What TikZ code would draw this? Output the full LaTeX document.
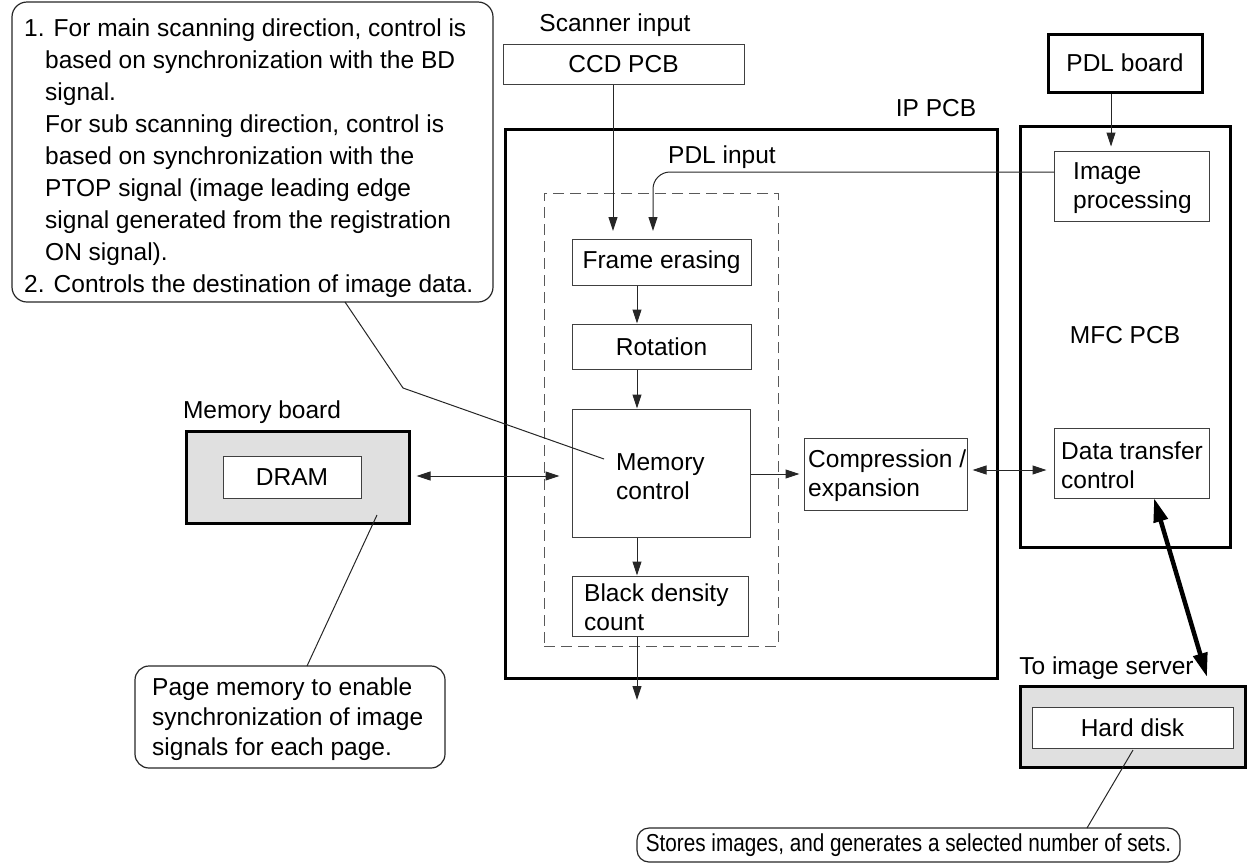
\documentclass[tikz,border=0pt]{standalone}
\usepackage{graphicx}
\usepackage{fontspec}
\setmainfont{Liberation Sans}
\usetikzlibrary{arrows.meta}
\begin{document}
\begin{tikzpicture}[x=1pt,y=-1pt,
  every node/.style={font=\fontsize{24.5}{29}\selectfont, inner sep=0pt},
  thinbox/.style={draw=black!75, line width=1pt, rectangle},
  thickbox/.style={draw=black, line width=3pt, rectangle},
  graybox/.style={thickbox, fill=black!12},
  note/.style={draw=black!85, line width=1.2pt, rounded corners=15pt},
  conn/.style={draw=black!85, line width=1pt},
  arr/.style={conn, -{Triangle[length=14pt,width=9pt]}},
  darr/.style={conn, {Triangle[length=14pt,width=9pt]}-{Triangle[length=14pt,width=9pt]}},
  bigarr/.style={draw=black, line width=4.5pt, {Triangle[length=24pt,width=14pt]}-{Triangle[length=24pt,width=14pt]}}]
\useasboundingbox (0,0) rectangle (1257,863);

% top-left note
\node[note, minimum width=481pt, minimum height=300pt] (note1) at (252.5,152) {};
\node[anchor=north west, align=left, font=\fontsize{24.5}{32}\selectfont] (note1t) at (24,19)
 {1. For main scanning direction, control is\\
  \hspace*{21pt}based on synchronization with the BD\\
  \hspace*{21pt}signal.\\
  \hspace*{21pt}For sub scanning direction, control is\\
  \hspace*{21pt}based on synchronization with the\\
  \hspace*{21pt}PTOP signal (image leading edge\\
  \hspace*{21pt}signal generated from the registration\\
  \hspace*{21pt}ON signal).\\
  2. Controls the destination of image data.};

% scanner
\node (scanlbl) at (615,25) {Scanner input};
\node[thinbox, minimum width=241pt, minimum height=40pt] (ccd) at (623.5,64) {CCD PCB};

% IP PCB
\node[thickbox, minimum width=492pt, minimum height=549pt] (ip) at (751,403.5) {};
\node (iplbl) at (936,108) {IP PCB};
\node[draw=black!65, line width=1pt, dash pattern=on 11pt off 6pt, minimum width=234pt, minimum height=453pt] (grp) at (661,419.5) {};
\node (pdllbl) at (722,157) {PDL input};
\node[thinbox, minimum width=179pt, minimum height=46pt] (frame) at (661.5,262) {Frame erasing};
\node[thinbox, minimum width=179pt, minimum height=45pt] (rot) at (661.5,346.5) {Rotation};
\node[thinbox, minimum width=178pt, minimum height=128pt] (mem) at (661,473) {};
\node[anchor=west, align=left] (memt) at (616,477) {Memory\\control};
\node[thinbox, minimum width=176pt, minimum height=60pt] (blk) at (660,606) {};
\node[anchor=west, align=left] (blkt) at (584,607) {Black density\\count};
\node[thinbox, minimum width=163pt, minimum height=72pt] (comp) at (885.5,474) {};
\node[anchor=west, align=left] (compt) at (808,476) {Compression /\\expansion};

% PDL / MFC
\node[thickbox, minimum width=154pt, minimum height=58pt] (pdlb) at (1125,63) {PDL board};
\node[thickbox, minimum width=210pt, minimum height=421pt] (mfc) at (1125,336.5) {};
\node (mfclbl) at (1125,335) {MFC PCB};
\node[thinbox, minimum width=155pt, minimum height=70pt] (imgp) at (1131.5,186) {};
\node[anchor=west, align=left] (imgpt) at (1073,188) {Image\\processing};
\node[thinbox, minimum width=155pt, minimum height=70pt] (dtc) at (1131.5,463) {};
\node[anchor=west, align=left] (dtct) at (1061,465) {Data transfer\\control};

% memory board
\node[graybox, minimum width=223pt, minimum height=92pt] (mb) at (297.5,477) {};
\node (mblbl) at (262,412) {Memory board};
\node[thinbox, fill=white, minimum width=138pt, minimum height=42pt] (dram) at (292,477) {DRAM};

% note 2
\node[note, rounded corners=14pt, minimum width=310pt, minimum height=102pt] (note2) at (290,717) {};
\node[anchor=north west, align=left, font=\fontsize{24.5}{30}\selectfont] (note2t) at (152,678)
 {Page memory to enable\\synchronization of image\\signals for each page.};

% hard disk
\node (tislbl) at (1106.5,668) {To image server};
\node[graybox, minimum width=225pt, minimum height=81pt] (hdo) at (1132.5,726.5) {};
\node[thinbox, fill=white, minimum width=201pt, minimum height=41pt] (hd) at (1132.5,727.5) {Hard disk};

% note 3
\node[note, rounded corners=12pt, minimum width=543pt, minimum height=34pt] (note3) at (908.5,845)
 {\scalebox{0.846}[1]{Stores images, and generates a selected number of sets.}};

% pointer lines
\coordinate (n1p) at (345,302);
\coordinate (n1k) at (403,388);
\coordinate (n1e) at (604,459);
\draw[conn] (n1p) -- (n1k) -- (n1e);
\coordinate (mbp) at (377,515);
\coordinate (n2p) at (307,666);
\draw[conn] (mbp) -- (n2p);
\coordinate (hdp) at (1133,750);
\coordinate (n3p) at (1087,828);
\draw[conn] (hdp) -- (n3p);

% arrows
\coordinate (colx) at (637,0);
\coordinate (fein) at (613,231);
\draw[arr] (ccd.south -| fein) -- (fein);
\coordinate (ipout) at (1054,172);
\coordinate (pdlin) at (653,231);
\draw[arr, rounded corners=17pt] (ipout) -| (pdlin);
\draw[arr] (frame.south -| colx) -- (rot.north -| colx);
\draw[arr] (rot.south -| colx) -- (mem.north -| colx);
\draw[arr] (mem.south -| colx) -- (blk.north -| colx);
\coordinate (outend) at (637,700);
\draw[arr] (blk.south -| colx) -- (outend);
\coordinate (row1) at (0,474);
\draw[arr, shorten >=4pt] (mem.east |- row1) -- (comp.west |- row1);
\coordinate (row2) at (0,470);
\draw[darr, shorten <=5pt, shorten >=7pt] (comp.east |- row2) -- (dtc.west |- row2);
\coordinate (row3) at (0,476);
\draw[darr, shorten <=6pt, shorten >=12pt] (mb.east |- row3) -- (mem.west |- row3);
\coordinate (pdlx) at (1111,0);
\draw[arr, shorten >=4pt] (pdlb.south -| pdlx) -- (imgp.north -| pdlx);
\coordinate (dtb) at (1154,498);
\coordinate (hdt) at (1207,677);
\draw[bigarr] (dtb) -- (hdt);
\end{tikzpicture}
\end{document}
